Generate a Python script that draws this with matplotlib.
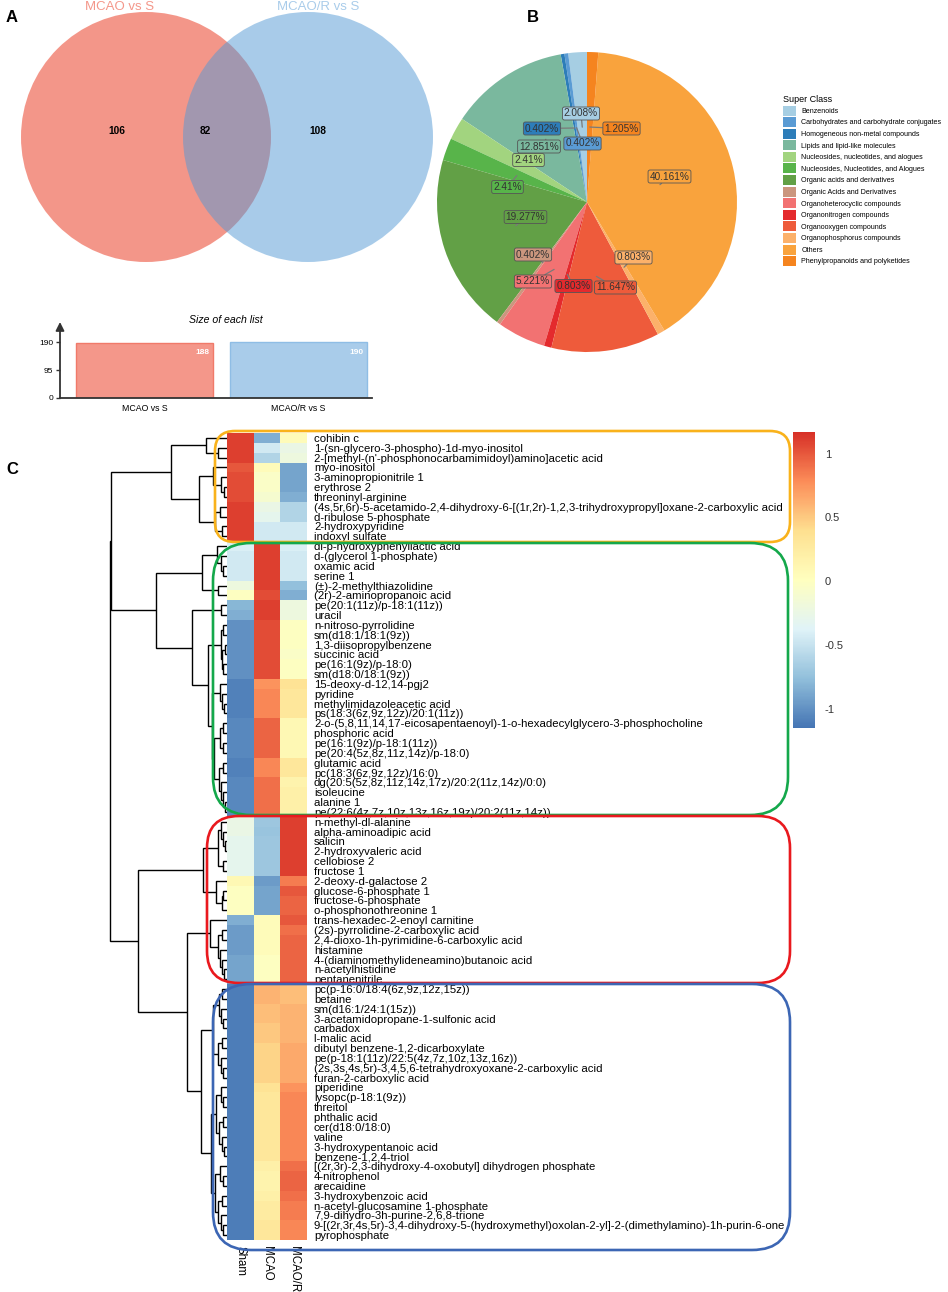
import numpy as np
import matplotlib
matplotlib.use('Agg')
import matplotlib.pyplot as plt
from matplotlib.patches import Circle, FancyBboxPatch
from matplotlib.colors import LinearSegmentedColormap

plt.rcParams['font.family'] = ['Liberation Sans', 'DejaVu Sans']

# ---------------- data ----------------
venn_sets = ['MCAO vs S', 'MCAO/R vs S']
venn_counts = [106, 82, 108]          # only-left, shared, only-right
list_sizes = [188, 190]

super_class = ['Benzenoids', 'Carbohydrates and carbohydrate conjugates',
               'Homogeneous non-metal compounds', 'Lipids and lipid-like molecules',
               'Nucleosides, nucleotides, and alogues', 'Nucleosides, Nucleotides, and Alogues',
               'Organic acids and derivatives', 'Organic Acids and Derivatives',
               'Organoheterocyclic compounds', 'Organonitrogen compounds',
               'Organooxygen compounds', 'Organophosphorus compounds', 'Others',
               'Phenylpropanoids and polyketides']
class_pct = [2.008, 0.402, 0.402, 12.851, 2.41, 2.41, 19.277, 0.402, 5.221,
             0.803, 11.647, 0.803, 40.161, 1.205]
class_colors = ['#A6CEE3', '#5A9BD4', '#2D7DB9', '#7AB89E', '#A2D47F', '#58B44A',
                '#62A046', '#CB967E', '#F27272', '#E42A2D', '#EE5B3B', '#FCB16A',
                '#F9A33D', '#F5841F']

metabolites = [
    'cohibin c', '1-(sn-glycero-3-phospho)-1d-myo-inositol',
    "2-[methyl-(n'-phosphonocarbamimidoyl)amino]acetic acid", 'myo-inositol',
    '3-aminopropionitrile 1', 'erythrose 2', 'threoninyl-arginine',
    '(4s,5r,6r)-5-acetamido-2,4-dihydroxy-6-[(1r,2r)-1,2,3-trihydroxypropyl]oxane-2-carboxylic acid',
    'd-ribulose 5-phosphate', '2-hydroxypyridine', 'indoxyl sulfate',
    'dl-p-hydroxyphenyllactic acid', 'd-(glycerol 1-phosphate)', 'oxamic acid', 'serine 1',
    '(±)-2-methylthiazolidine', '(2r)-2-aminopropanoic acid', 'pe(20:1(11z)/p-18:1(11z))',
    'uracil', 'n-nitroso-pyrrolidine', 'sm(d18:1/18:1(9z))', '1,3-diisopropylbenzene',
    'succinic acid', 'pe(16:1(9z)/p-18:0)', 'sm(d18:0/18:1(9z))', '15-deoxy-d-12,14-pgj2',
    'pyridine', 'methylimidazoleacetic acid', 'ps(18:3(6z,9z,12z)/20:1(11z))',
    '2-o-(5,8,11,14,17-eicosapentaenoyl)-1-o-hexadecylglycero-3-phosphocholine',
    'phosphoric acid', 'pe(16:1(9z)/p-18:1(11z))', 'pe(20:4(5z,8z,11z,14z)/p-18:0)',
    'glutamic acid', 'pc(18:3(6z,9z,12z)/16:0)', 'dg(20:5(5z,8z,11z,14z,17z)/20:2(11z,14z)/0:0)',
    'isoleucine', 'alanine 1', 'pe(22:6(4z,7z,10z,13z,16z,19z)/20:2(11z,14z))',
    'n-methyl-dl-alanine', 'alpha-aminoadipic acid', 'salicin', '2-hydroxyvaleric acid',
    'cellobiose 2', 'fructose 1', '2-deoxy-d-galactose 2', 'glucose-6-phosphate 1',
    'fructose-6-phosphate', 'o-phosphonothreonine 1', 'trans-hexadec-2-enoyl carnitine',
    '(2s)-pyrrolidine-2-carboxylic acid', '2,4-dioxo-1h-pyrimidine-6-carboxylic acid',
    'histamine', '4-(diaminomethylideneamino)butanoic acid', 'n-acetylhistidine',
    'pentanenitrile', 'pc(p-16:0/18:4(6z,9z,12z,15z))', 'betaine', 'sm(d16:1/24:1(15z))',
    '3-acetamidopropane-1-sulfonic acid', 'carbadox', 'l-malic acid',
    'dibutyl benzene-1,2-dicarboxylate', 'pe(p-18:1(11z)/22:5(4z,7z,10z,13z,16z))',
    '(2s,3s,4s,5r)-3,4,5,6-tetrahydroxyoxane-2-carboxylic acid', 'furan-2-carboxylic acid',
    'piperidine', 'lysopc(p-18:1(9z))', 'threitol', 'phthalic acid', 'cer(d18:0/18:0)',
    'valine', '3-hydroxypentanoic acid', 'benzene-1,2,4-triol',
    '[(2r,3r)-2,3-dihydroxy-4-oxobutyl] dihydrogen phosphate', '4-nitrophenol', 'arecaidine',
    '3-hydroxybenzoic acid', 'n-acetyl-glucosamine 1-phosphate',
    '7,9-dihydro-3h-purine-2,6,8-trione',
    '9-[(2r,3r,4s,5r)-3,4-dihydroxy-5-(hydroxymethyl)oxolan-2-yl]-2-(dimethylamino)-1h-purin-6-one',
    'pyrophosphate']
groups = ['Sham', 'MCAO', 'MCAO/R']

sham = [1.1, 1.1, 1.1, 1.0, 1.05, 1.05, 1.05, 1.1, 1.1, 1.1, 1.1,
        -0.4, -0.45, -0.45, -0.45, -0.2, 0.0, -0.8, -0.85, -1.0, -1.0, -1.0, -1.0, -1.0, -1.0,
        -1.08, -1.08, -1.08, -1.08, -1.05, -1.05, -1.05, -1.05, -1.08, -1.08, -1.05, -1.05, -1.05, -1.05,
        -0.25, -0.25, -0.3, -0.3, -0.3, -0.3, 0.1, 0.0, 0.0, 0.0,
        -0.85, -0.95, -0.95, -0.95, -0.9, -0.9, -0.9,
        -1.1, -1.1, -1.1, -1.1, -1.1, -1.1, -1.1, -1.1, -1.1, -1.1, -1.1, -1.1, -1.1,
        -1.1, -1.1, -1.1, -1.1, -1.1, -1.1, -1.1, -1.1, -1.1, -1.1, -1.1, -1.1, -1.1]
mcao = [-0.85, -0.45, -0.6, 0.05, -0.05, -0.05, -0.1, -0.25, -0.3, -0.45, -0.45,
        1.1, 1.1, 1.1, 1.1, 1.1, 1.05, 1.1, 1.1, 1.05, 1.05, 1.05, 1.05, 1.05, 1.05,
        0.75, 0.8, 0.8, 0.8, 0.95, 0.95, 0.95, 0.95, 0.8, 0.8, 0.9, 0.9, 0.9, 0.9,
        -0.7, -0.72, -0.7, -0.7, -0.7, -0.7, -0.95, -0.9, -0.9, -0.9,
        0.05, 0.05, 0.05, 0.05, 0.0, 0.0, 0.0,
        0.6, 0.6, 0.55, 0.55, 0.5, 0.5, 0.45, 0.45, 0.45, 0.45, 0.35, 0.3, 0.3,
        0.3, 0.3, 0.3, 0.3, 0.3, 0.2, 0.15, 0.15, 0.2, 0.25, 0.25, 0.3, 0.3]
mcaor = [0.05, -0.25, -0.2, -0.9, -0.9, -0.9, -0.85, -0.6, -0.6, -0.45, -0.45,
         -0.4, -0.45, -0.45, -0.45, -0.75, -0.85, -0.2, -0.2, 0.0, 0.0, 0.0, -0.05, 0.0, 0.0,
         0.35, 0.3, 0.3, 0.3, 0.1, 0.1, 0.1, 0.1, 0.3, 0.3, 0.15, 0.2, 0.2, 0.2,
         1.1, 1.1, 1.1, 1.1, 1.1, 1.1, 0.85, 1.0, 0.95, 0.95,
         1.0, 0.9, 0.95, 0.95, 0.95, 0.95, 0.95,
         0.55, 0.55, 0.6, 0.6, 0.6, 0.6, 0.65, 0.65, 0.65, 0.65, 0.75, 0.8, 0.8,
         0.8, 0.8, 0.8, 0.8, 0.8, 0.9, 0.95, 0.95, 0.9, 0.85, 0.85, 0.8, 0.8]

# row dendrogram: (merge height, left, right), leaves are row indices
tree_orange = (4.8, (1.8, 0, (0.77, 1, 2)),
               (2.4, (1.2, 3, (0.5, 4, (0.26, 5, 6))),
                     (1.0, (0.6, 7, 8), (0.43, 9, 10))))
tree_green = (6.07, (2.1, (0.85, 11, (0.5, 12, (0.3, 13, 14))), (0.77, 15, 16)),
              (3.0, (0.55, 17, 18),
                    (1.6, (0.55, (0.3, 19, 20), (0.45, (0.2, 21, 22), (0.35, 23, 24))),
                          (1.28, (0.6, 25, (0.4, 26, (0.25, 27, 28))),
                                 (1.1, (0.6, (0.35, 29, 30), (0.3, 31, 32)),
                                       (0.7, (0.35, 33, 34), (0.5, 35, (0.3, 36, (0.2, 37, 38)))))))))
tree_red_top = (2.05, (0.75, (0.5, 39, (0.35, 40, (0.2, 41, 42))), (0.3, 43, 44)),
                (0.9, 45, (0.45, (0.3, 46, 47), 48)))
tree_red_low = (1.45, 49, (0.77, (0.4, 50, 51), (0.6, 52, (0.4, 53, (0.25, 54, 55)))))
tree_blue = (2.2, (1.2, (0.7, (0.4, 56, 57), (0.5, 58, (0.3, 59, 60))),
                   (0.8, (0.45, 61, 62), (0.55, 63, (0.35, 64, 65)))),
             (1.37, (0.94, (0.5, 66, (0.3, 67, 68)), (0.7, (0.35, 69, 70), (0.45, 71, (0.25, 72, 73)))),
                    (1.03, (0.6, 74, (0.35, 75, 76)), (0.75, (0.4, 77, 78), (0.5, 79, (0.3, 80, 81))))))
tree = (10.0, (9.9, tree_orange, tree_green), (7.6, tree_red_top, (3.4, tree_red_low, tree_blue)))

# ---------------- figure ----------------
W, H = 948, 1292
fig = plt.figure(figsize=(W / 100, H / 100), dpi=100)


def px(x0, y0, x1, y1):
    return [x0 / W, 1 - y1 / H, (x1 - x0) / W, (y1 - y0) / H]


# A: venn
ax = fig.add_axes(px(0, 0, 470, 265))
ax.set_xlim(0, 470)
ax.set_ylim(265, 0)
ax.axis('off')
ax.add_patch(Circle((146, 137), 125, fc='#E92F15', alpha=0.5, lw=0))
ax.add_patch(Circle((308, 137), 125, fc='#5399D5', alpha=0.5, lw=0))
ax.text(120, 7, venn_sets[0], color='#F4978A', fontsize=9.5, ha='center', va='center', zorder=5)
ax.text(318, 7, venn_sets[1], color='#A9CCEA', fontsize=9.5, ha='center', va='center', zorder=5)
for xx, c in zip([117, 205, 318], venn_counts):
    ax.text(xx, 131, str(c), fontsize=7.3, fontweight='bold', ha='center', va='center')

# A: list sizes
axb = fig.add_axes(px(60, 322, 372, 398))
axb.bar([0, 1], list_sizes, width=0.89, color=['#F4978A', '#A9CCEA'],
        edgecolor=['#F07A6A', '#8FBDE5'], lw=1)
axb.set_xlim(-0.549, 1.477)
axb.set_ylim(0, 258)
for s in ['top', 'right', 'left']:
    axb.spines[s].set_visible(False)
axb.spines['bottom'].set_color('#333333')
axb.spines['bottom'].set_linewidth(1.3)
axb.set_yticks([0, 95, 190])
axb.tick_params(axis='y', labelsize=6, length=3, width=1, color='#333333', pad=2)
axb.set_xticks([0, 1])
axb.set_xticklabels(venn_sets, fontsize=6.3)
axb.tick_params(axis='x', length=0, pad=4)
axb.annotate('', xy=(0, 1.0), xytext=(0, 0), xycoords='axes fraction',
             arrowprops=dict(arrowstyle='-|>,head_width=0.25,head_length=0.5', lw=1.3,
                             color='#333333', shrinkA=0, shrinkB=0))
for i, v in enumerate(list_sizes):
    axb.text(i + 0.42, v - 34, str(v), color='white', ha='right', va='center',
             fontsize=6, fontweight='bold')
fig.text(226 / W, 1 - 320 / H, 'Size of each list', style='italic', fontsize=7.6,
         ha='center', va='center')

# B: pie
axp = fig.add_axes(px(437, 52, 737, 352))
wedges, _ = axp.pie(class_pct, colors=class_colors, startangle=90, counterclock=True,
                    radius=1, wedgeprops=dict(linewidth=0))
axp.set_xlim(-1, 1)
axp.set_ylim(-1, 1)
label_pos = [(-0.04, 0.59), (-0.03, 0.39), (-0.30, 0.49), (-0.32, 0.37), (-0.39, 0.28),
             (-0.53, 0.10), (-0.41, -0.10), (-0.36, -0.35), (-0.36, -0.53), (-0.09, -0.56),
             (0.19, -0.57), (0.31, -0.37), (0.55, 0.17), (0.23, 0.49)]
for w, v, c, lp in zip(wedges, class_pct, class_colors, label_pos):
    mid = np.deg2rad((w.theta1 + w.theta2) / 2)
    anchor = (0.5 * np.cos(mid), 0.5 * np.sin(mid))
    axp.annotate(f'{v:g}%', xy=anchor, xytext=lp, ha='center', va='center',
                 fontsize=7.2, color='#333333',
                 bbox=dict(boxstyle='round,pad=0.15,rounding_size=0.2', fc=c, ec='#555555', lw=0.6),
                 arrowprops=dict(arrowstyle='-', color='#7a7a7a', lw=0.9, shrinkA=0, shrinkB=0))
fig.legend(wedges, super_class, loc='upper left', bbox_to_anchor=(783 / W, 1 - 95 / H),
           frameon=False, fontsize=5.1, title='Super Class', title_fontsize=6.5,
           alignment='left', handlelength=1.88, handleheight=1.8, handletextpad=0.7,
           labelspacing=0.22, borderpad=0, borderaxespad=0)

# C: dendrogram
axd = fig.add_axes(px(108, 433, 227, 1240))
axd.set_xlim(10.17, 0)
axd.set_ylim(len(metabolites) - 0.5, -0.5)
axd.axis('off')


def draw(node):
    if isinstance(node, int):
        return node, 0.0
    h, left, right = node
    yl, hl = draw(left)
    yr, hr = draw(right)
    axd.plot([hl, h, h, hr], [yl, yl, yr, yr], color='black', lw=1.0,
             solid_capstyle='butt', solid_joinstyle='miter')
    return (yl + yr) / 2, h


draw(tree)

# C: heatmap (pheatmap default palette)
heat_cmap = LinearSegmentedColormap.from_list(
    'rdylbu7', ['#4575B4', '#91BFDB', '#E0F3F8', '#FFFFBF', '#FEE090', '#FC8D59', '#D73027'])
data = np.column_stack([sham, mcao, mcaor])
axh = fig.add_axes(px(227, 433, 307, 1240))
im = axh.imshow(data, aspect='auto', cmap=heat_cmap, vmin=-1.15, vmax=1.17,
                interpolation='nearest')
axh.set_yticks(range(len(metabolites)))
axh.set_yticklabels(metabolites, fontsize=8.2)
axh.yaxis.tick_right()
axh.set_xticks(range(3))
axh.set_xticklabels(groups, rotation=270, fontsize=8.3, va='top')
axh.tick_params(length=0)
axh.tick_params(axis='y', pad=5)
axh.tick_params(axis='x', pad=4)
for s in axh.spines.values():
    s.set_visible(False)

cax = fig.add_axes(px(793, 432, 815, 728))
cb = fig.colorbar(im, cax=cax, ticks=[-1, -0.5, 0, 0.5, 1])
cb.outline.set_visible(False)
cb.ax.set_yticklabels(['-1', '-0.5', '0', '0.5', '1'])
cb.ax.tick_params(length=0, labelsize=8, pad=7, labelcolor='#333333')

# overlay: cluster boxes and panel letters
axo = fig.add_axes([0, 0, 1, 1])
axo.set_xlim(0, W)
axo.set_ylim(H, 0)
axo.axis('off')
axo.set_zorder(10)
axo.patch.set_alpha(0)
cluster_boxes = [(215, 431, 790, 542, '#F9B21B', 20), (213, 543, 788, 815, '#14A84B', 38),
                 (207, 816, 790, 983, '#E9191E', 32), (213, 984, 790, 1250, '#3C66B4', 38)]
for x0, y0, x1, y1, col, r in cluster_boxes:
    axo.add_patch(FancyBboxPatch((x0, y0), x1 - x0, y1 - y0,
                                 boxstyle=f'round,pad=0,rounding_size={r}',
                                 fill=False, ec=col, lw=1.9))
for lab, xx, yy in [('A', 12, 18), ('B', 533, 18), ('C', 12, 470)]:
    axo.text(xx, yy, lab, fontsize=12, fontweight='bold', ha='center', va='center')

fig.savefig('out.png', dpi=100)
